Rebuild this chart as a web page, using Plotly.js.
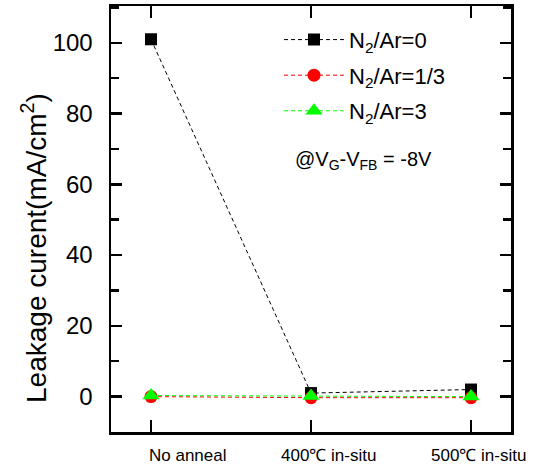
<!DOCTYPE html>
<html>
<head>
<meta charset="utf-8">
<script src="https://cdn.plot.ly/plotly-3.0.1.min.js"></script>
<style>html,body{margin:0;padding:0;background:#fff;}#chart{width:536px;height:468px;}</style>
</head>
<body>
<div id="chart"></div>
<script>
// ---- data ----
const categories = ["No anneal", "400\u2103 in-situ", "500\u2103 in-situ"];
const xIndex = [0, 1, 2];
const seriesNames = ["N<sub>2</sub>/Ar=0", "N<sub>2</sub>/Ar=1/3", "N<sub>2</sub>/Ar=3"];
const ar0 = [101, 1, 2];
const ar13 = [0, -0.3, -0.3];
const ar3 = [0.3, 0.2, 0];
const yTitle = "Leakage curent(mA/cm<sup>2</sup>)";
const noteText = "@V<sub>G</sub>-V<sub>FB</sub> = -8V";

// ---- styles ----
const FONT = "Arial, 'Liberation Sans', sans-serif";
const styles = [
  {color: "#000000", symbol: "square", size: 12},
  {color: "#ff0000", symbol: "circle", size: 13},
  {color: "#00ff00", symbol: "triangle-up", size: 15}
];
const values = [ar0, ar13, ar3];
const traces = values.map((v, i) => ({
  x: xIndex, y: v, name: seriesNames[i], type: "scatter", mode: "lines+markers",
  legendgroup: "g" + i,
  line: {color: styles[i].color, width: 1, dash: "4px,3px"},
  marker: {color: styles[i].color, symbol: styles[i].symbol, size: styles[i].size}
}));

const labelShift = [37, 17, 7];
const annotations = categories.map((c, i) => ({
  text: c, x: xIndex[i], xref: "x", y: -0.054, yref: "paper",
  xanchor: "center", yanchor: "middle", xshift: labelShift[i], showarrow: false,
  font: {family: FONT, size: 17, color: "#000"}
}));
annotations.push({
  text: yTitle, x: -0.1925, y: 0.432, xref: "paper", yref: "paper",
  textangle: -90, showarrow: false, xanchor: "center", yanchor: "middle",
  font: {family: FONT, size: 28, color: "#000"}
});
annotations.push({
  text: noteText, x: 0.63, y: 0.638, xref: "paper", yref: "paper",
  showarrow: false, xanchor: "center", yanchor: "middle",
  font: {family: FONT, size: 20, color: "#000"}
});

const layout = {
  width: 536, height: 468,
  margin: {l: 111, r: 25, t: 6, b: 36},
  paper_bgcolor: "#fff", plot_bgcolor: "#fff",
  font: {family: FONT, color: "#000"},
  showlegend: true,
  legend: {
    x: 0.42, y: 0.97, xanchor: "left", yanchor: "top",
    bgcolor: "rgba(0,0,0,0)", borderwidth: 0,
    font: {family: FONT, size: 22, color: "#000"},
    itemwidth: 60, tracegroupgap: 4
  },
  xaxis: {
    range: [-0.25, 2.25], tickvals: xIndex, showticklabels: false,
    showline: true, linecolor: "#000", linewidth: 2.5, mirror: "ticks",
    ticks: "inside", ticklen: 12, tickwidth: 2.5, tickcolor: "#000",
    showgrid: false, zeroline: false, fixedrange: true
  },
  yaxis: {
    range: [-10, 110.4], tick0: 0, dtick: 20,
    showline: true, linecolor: "#000", linewidth: 2.5, mirror: "ticks",
    ticks: "inside", ticklen: 11, tickwidth: 2.5, tickcolor: "#000",
    minor: {dtick: 10, ticks: "inside", ticklen: 8, tickwidth: 2.5, tickcolor: "#000", showgrid: false},
    tickfont: {family: FONT, size: 24, color: "#000"},
    ticklabelstandoff: 11,
    showgrid: false, zeroline: false, fixedrange: true
  },
  annotations: annotations
};

Plotly.newPlot("chart", traces, layout, {staticPlot: true, displayModeBar: false});
</script>
</body>
</html>
